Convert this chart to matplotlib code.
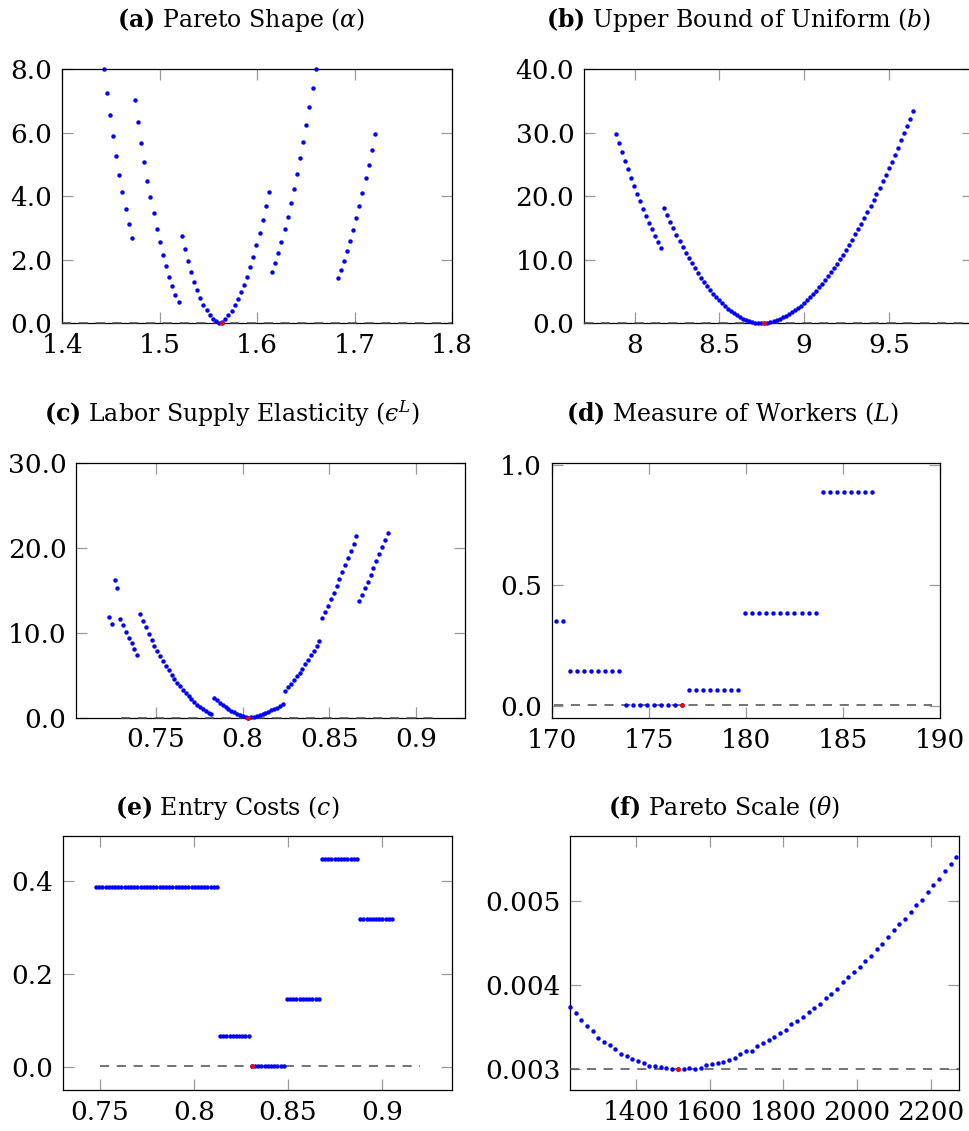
import numpy as np
import matplotlib
matplotlib.use("Agg")
import matplotlib.pyplot as plt

plt.rcParams['font.family'] = ['DejaVu Serif']
plt.rcParams['mathtext.fontset'] = 'dejavuserif'

# (a) Pareto shape
a_x = [1.4425, 1.4457, 1.4489, 1.4521, 1.4553, 1.4585, 1.4617, 1.4649, 1.4681, 1.4713,
       1.4745, 1.4777, 1.4809, 1.4841, 1.4873, 1.4905, 1.4937, 1.4969, 1.5001, 1.5033,
       1.5065, 1.5097, 1.5129, 1.5161, 1.5193,
       1.5225, 1.5257, 1.5289, 1.5321, 1.5353, 1.5385, 1.5417, 1.5449, 1.5481, 1.5513,
       1.5545, 1.5577, 1.5609, 1.5641, 1.5673, 1.5705, 1.5737, 1.5769, 1.5801, 1.5833,
       1.5865, 1.5897, 1.5929, 1.5961, 1.5993, 1.6025, 1.6057, 1.6089, 1.6121,
       1.6153, 1.6185, 1.6217, 1.6249, 1.6281, 1.6313, 1.6345, 1.6377, 1.6409, 1.6441,
       1.6473, 1.6505, 1.6537, 1.6569, 1.6601,
       1.6825, 1.6857, 1.6889, 1.6921, 1.6953, 1.6985, 1.7017, 1.7049, 1.7081, 1.7113,
       1.7145, 1.7177, 1.7209]
a_y = [7.99, 7.24, 6.55, 5.89, 5.27, 4.68, 4.12, 3.60, 3.11, 2.67,
       7.01, 6.33, 5.68, 5.07, 4.49, 3.96, 3.46, 2.98, 2.55, 2.16,
       1.80, 1.46, 1.17, 0.90, 0.68,
       2.75, 2.34, 1.97, 1.62, 1.31, 1.04, 0.80, 0.59, 0.41, 0.26,
       0.15, 0.06, 0.015, 0.03, 0.14, 0.25, 0.40, 0.57, 0.75, 0.97,
       1.21, 1.47, 1.78, 2.10, 2.46, 2.85, 3.25, 3.68, 4.14,
       1.60, 1.90, 2.22, 2.57, 2.96, 3.35, 3.78, 4.23, 4.69, 5.20,
       5.71, 6.25, 6.81, 7.40, 8.00,
       1.42, 1.68, 1.97, 2.26, 2.60, 2.94, 3.31, 3.69, 4.10, 4.56,
       4.99, 5.45, 5.94]
a_best = (1.5637, 0.0)

# (b) upper bound of uniform
b_x = [7.888, 7.906, 7.924, 7.942, 7.960, 7.978, 7.995, 8.013, 8.031, 8.049,
       8.067, 8.085, 8.103, 8.121, 8.139, 8.157, 8.174, 8.192, 8.210, 8.228,
       8.246, 8.264, 8.282, 8.300, 8.318, 8.336, 8.353, 8.371, 8.389, 8.407,
       8.425, 8.443, 8.461, 8.479, 8.497, 8.515, 8.532, 8.550, 8.568, 8.586,
       8.604, 8.622, 8.640, 8.658, 8.676, 8.694, 8.711, 8.729, 8.747, 8.765,
       8.783, 8.801, 8.819, 8.837, 8.855, 8.873, 8.890, 8.908, 8.926, 8.944,
       8.962, 8.980, 8.998, 9.016, 9.034, 9.052, 9.069, 9.087, 9.105, 9.123,
       9.141, 9.159, 9.177, 9.195, 9.213, 9.231, 9.248, 9.266, 9.284, 9.302,
       9.320, 9.338, 9.356, 9.374, 9.392, 9.410, 9.427, 9.445, 9.463, 9.481,
       9.499, 9.517, 9.535, 9.553, 9.571, 9.589, 9.606, 9.624, 9.642]
b_y = [29.83, 28.36, 26.95, 25.59, 24.22, 22.91, 21.60, 20.39, 19.19, 18.03,
       16.93, 15.83, 14.79, 13.74, 12.79, 11.85,
       18.19, 17.04, 15.99, 14.94, 13.95, 12.95, 12.01, 11.11, 10.28, 9.44,
       8.65, 7.86, 7.18, 6.50, 5.87, 5.24, 4.67, 4.14, 3.62, 3.15,
       2.67, 2.25, 1.89, 1.57, 1.26, 0.94, 0.68, 0.47, 0.31, 0.21,
       0.10, 0.05, 0.02, 0.00, 0.05, 0.17, 0.35, 0.53, 0.73, 0.94,
       1.15, 1.42, 1.73, 2.04, 2.36, 2.73, 3.15, 3.67, 4.09, 4.56,
       5.14, 5.66, 6.19, 6.76, 7.44, 8.07, 8.70, 9.38, 10.07, 10.80,
       11.59, 12.37, 13.16, 14.00, 14.84, 15.67, 16.57, 17.46, 18.40, 19.35,
       20.29, 21.29, 22.33, 23.33, 24.43, 25.43, 26.53, 27.63, 28.78, 29.88,
       31.04, 32.19, 33.40]
b_best = (8.765, 0.0)

# (c) labor supply elasticity
c_x = [0.7230, 0.7246, 0.7263, 0.7279, 0.7296, 0.7312, 0.7328, 0.7345, 0.7361, 0.7377,
       0.7394, 0.7410, 0.7427, 0.7443, 0.7459, 0.7476, 0.7492, 0.7509, 0.7525, 0.7541,
       0.7558, 0.7574, 0.7591, 0.7607, 0.7623, 0.7640, 0.7656, 0.7672, 0.7689, 0.7705,
       0.7722, 0.7738, 0.7754, 0.7771, 0.7787, 0.7804, 0.7820, 0.7836, 0.7853, 0.7869,
       0.7885, 0.7902, 0.7918, 0.7935, 0.7951, 0.7967, 0.7984, 0.8000, 0.8017, 0.8033,
       0.8049, 0.8066, 0.8082, 0.8099, 0.8115, 0.8131, 0.8148, 0.8164, 0.8180, 0.8197,
       0.8213, 0.8230, 0.8246, 0.8262, 0.8279, 0.8295, 0.8312, 0.8328, 0.8344, 0.8361,
       0.8377, 0.8393, 0.8410, 0.8426, 0.8443, 0.8459, 0.8475, 0.8492, 0.8508, 0.8525,
       0.8541, 0.8557, 0.8574, 0.8590, 0.8607, 0.8623, 0.8639, 0.8656, 0.8672, 0.8688,
       0.8705, 0.8721, 0.8738, 0.8754, 0.8770, 0.8787, 0.8803, 0.8820, 0.8836]
c_y = [11.84, 11.10, 16.27, 15.33, 11.69, 10.94, 10.16, 9.45, 8.78, 8.08,
       7.45, 12.20, 11.41, 10.67, 9.92, 9.22, 8.51, 7.88, 7.25, 6.67,
       6.08, 5.57, 5.06, 4.59, 4.12, 3.69, 3.29, 2.90, 2.51, 2.16,
       1.84, 1.53, 1.25, 1.02, 0.78, 0.59, 0.47, 2.35, 2.04, 1.73,
       1.49, 1.25, 1.02, 0.82, 0.63, 0.47, 0.31, 0.20, 0.12, 0.00,
       0.06, 0.12, 0.20, 0.30, 0.42, 0.56, 0.70, 0.85, 1.00, 1.18,
       1.36, 1.57, 3.18, 3.57, 3.96, 4.39, 4.86, 5.33, 5.80, 6.31,
       6.82, 7.37, 7.92, 8.47, 9.06, 11.76, 12.51, 13.22, 14.00, 14.75,
       15.53, 16.31, 17.14, 17.96, 18.78, 19.65, 20.51, 21.41, 13.76, 14.47,
       15.25, 16.04, 16.82, 17.61, 18.43, 19.25, 20.12, 20.94, 21.80]
c_best = (0.8033, 0.0)

# (d) measure of workers
d_x = [170.21, 170.57, 170.93, 171.29, 171.66, 172.02, 172.38, 172.74, 173.10, 173.46,
       173.83, 174.19, 174.55, 174.91, 175.27, 175.63, 176.00, 176.36, 176.72, 177.08,
       177.44, 177.80, 178.17, 178.53, 178.89, 179.25, 179.61, 179.97, 180.34, 180.70,
       181.06, 181.42, 181.78, 182.14, 182.50, 182.87, 183.23, 183.59, 183.95, 184.31,
       184.67, 185.04, 185.40, 185.76, 186.12, 186.48]
d_y = [0.351, 0.351,
       0.145, 0.145, 0.145, 0.145, 0.145, 0.145, 0.145, 0.145,
       0.001, 0.001, 0.001, 0.001, 0.001, 0.001, 0.001, 0.001, 0.001,
       0.064, 0.064, 0.064, 0.064, 0.064, 0.064, 0.064, 0.064,
       0.385, 0.385, 0.385, 0.385, 0.385, 0.385, 0.385, 0.385, 0.385, 0.385, 0.385,
       0.889, 0.889, 0.889, 0.889, 0.889, 0.889, 0.889, 0.889]
d_best = (176.72, 0.001)

# (e) entry costs
e_x = [0.7479, 0.7496, 0.7513, 0.7530, 0.7546, 0.7563, 0.7580, 0.7597, 0.7614, 0.7631,
       0.7648, 0.7665, 0.7682, 0.7699, 0.7716, 0.7733, 0.7750, 0.7767, 0.7783, 0.7800,
       0.7817, 0.7834, 0.7851, 0.7868, 0.7885, 0.7902, 0.7919, 0.7936, 0.7953, 0.7970,
       0.7987, 0.8004, 0.8020, 0.8037, 0.8054, 0.8071, 0.8088, 0.8105, 0.8122, 0.8139,
       0.8156, 0.8173, 0.8190, 0.8207, 0.8224, 0.8241, 0.8257, 0.8274, 0.8291, 0.8308,
       0.8325, 0.8342, 0.8359, 0.8376, 0.8393, 0.8410, 0.8427, 0.8444, 0.8461, 0.8478,
       0.8494, 0.8511, 0.8528, 0.8545, 0.8562, 0.8579, 0.8596, 0.8613, 0.8630, 0.8647,
       0.8664, 0.8681, 0.8698, 0.8715, 0.8731, 0.8748, 0.8765, 0.8782, 0.8799, 0.8816,
       0.8833, 0.8850, 0.8867, 0.8884, 0.8901, 0.8918, 0.8935, 0.8952, 0.8968, 0.8985,
       0.9002, 0.9019, 0.9036, 0.9053]
e_y = ([0.3875] * 39 + [0.0667] * 10 + [0.003] * 11
       + [0.1464] * 11 + [0.4478] * 12 + [0.3193] * 11)
e_best = (0.8308, 0.003)

# (f) Pareto scale
f_x = [1220.6, 1236.0, 1251.5, 1266.9, 1282.3, 1297.8, 1313.2, 1328.6, 1344.0, 1359.5,
       1374.9, 1390.3, 1405.8, 1421.2, 1436.6, 1452.1, 1467.5, 1482.9, 1498.3, 1513.8,
       1529.2, 1544.6, 1560.1, 1575.5, 1590.9, 1606.4, 1621.8, 1637.2, 1652.6, 1668.1,
       1683.5, 1698.9, 1714.4, 1729.8, 1745.2, 1760.7, 1776.1, 1791.5, 1806.9, 1822.4,
       1837.8, 1853.2, 1868.7, 1884.1, 1899.5, 1915.0, 1930.4, 1945.8, 1961.2, 1976.7,
       1992.1, 2007.5, 2023.0, 2038.4, 2053.8, 2069.3, 2084.7, 2100.1, 2115.5, 2131.0,
       2146.4, 2161.8, 2177.3, 2192.7, 2208.1, 2223.6, 2239.0, 2254.4, 2269.8]
f_y = [0.003736, 0.003660, 0.003580, 0.003505, 0.003445, 0.003370, 0.003318, 0.003286, 0.003235, 0.003175,
       0.003151, 0.003115, 0.003091, 0.003068, 0.003036, 0.003036, 0.003020, 0.003008, 0.003000, 0.003000,
       0.002992, 0.003012, 0.002996, 0.003008, 0.003040, 0.003052, 0.003068, 0.003083, 0.003107, 0.003131,
       0.003175, 0.003207, 0.003215, 0.003266, 0.003306, 0.003342, 0.003378, 0.003421, 0.003461, 0.003533,
       0.003569, 0.003612, 0.003672, 0.003724, 0.003771, 0.003839, 0.003895, 0.003954, 0.004034, 0.004093,
       0.004153, 0.004217, 0.004288, 0.004344, 0.004423, 0.004491, 0.004571, 0.004650, 0.004722, 0.004785,
       0.004869, 0.004952, 0.005016, 0.005103, 0.005187, 0.005266, 0.005362, 0.005441, 0.005529]
f_best = (1513.8, 0.003)

# ticks and labels
a_xt, a_xl = [1.4, 1.5, 1.6, 1.7, 1.8], ["1.4", "1.5", "1.6", "1.7", "1.8"]
a_yt, a_yl = [0, 2, 4, 6, 8], ["0.0", "2.0", "4.0", "6.0", "8.0"]
b_xt, b_xl = [8, 8.5, 9, 9.5], ["8", "8.5", "9", "9.5"]
b_yt, b_yl = [0, 10, 20, 30, 40], ["0.0", "10.0", "20.0", "30.0", "40.0"]
c_xt, c_xl = [0.75, 0.8, 0.85, 0.9], ["0.75", "0.8", "0.85", "0.9"]
c_yt, c_yl = [0, 10, 20, 30], ["0.0", "10.0", "20.0", "30.0"]
d_xt, d_xl = [170, 175, 180, 185, 190], ["170", "175", "180", "185", "190"]
d_yt, d_yl = [0, 0.5, 1.0], ["0.0", "0.5", "1.0"]
e_xt, e_xl = [0.75, 0.8, 0.85, 0.9], ["0.75", "0.8", "0.85", "0.9"]
e_yt, e_yl = [0, 0.2, 0.4], ["0.0", "0.2", "0.4"]
f_xt, f_xl = [1400, 1600, 1800, 2000, 2200], ["1400", "1600", "1800", "2000", "2200"]
f_yt, f_yl = [0.003, 0.004, 0.005], ["0.003", "0.004", "0.005"]

# lunate epsilon typed directly
titles = [r"$\mathbf{(a)}$ Pareto Shape ($\alpha$)",
          r"$\mathbf{(b)}$ Upper Bound of Uniform ($b$)",
          "$\\mathbf{(c)}$ Labor Supply Elasticity ($\u03f5^L$)",
          r"$\mathbf{(d)}$ Measure of Workers ($L$)",
          r"$\mathbf{(e)}$ Entry Costs ($c$)",
          r"$\mathbf{(f)}$ Pareto Scale ($\theta$)"]

W, H = 970, 1131
fig = plt.figure(figsize=(W / 100, H / 100), dpi=100)

# pixel boxes: left, top, right, bottom ; title centre x, baseline y
boxes = [(62.3, 69, 452, 323.3), (584, 69, 973.5, 323.3),
         (76.3, 463.3, 465.3, 717.7), (551.7, 463.3, 940, 718),
         (63.3, 835.7, 452.3, 1090), (570.3, 835.7, 959, 1090)]
title_pos = [(241.5, 26.7), (739, 26.7), (232.3, 421.7),
             (732.5, 421.7), (227.5, 815), (724, 815)]

panels = [
    (a_x, a_y, a_best, (1.4, 1.8), (0, 8), (1.4, 1.8), a_xt, a_xl, a_yt, a_yl),
    (b_x, b_y, b_best, (7.7, 10.0), (0, 40), (7.7, 10.0), b_xt, b_xl, b_yt, b_yl),
    (c_x, c_y, c_best, (0.7042, 0.9283), (0, 30), (0.73, 0.91), c_xt, c_xl, c_yt, c_yl),
    (d_x, d_y, d_best, (170, 190), (-0.051, 1.007), (170.1, 189.6), d_xt, d_xl, d_yt, d_yl),
    (e_x, e_y, e_best, (0.7305, 0.9374), (-0.049, 0.498), (0.75, 0.92), e_xt, e_xl, e_yt, e_yl),
    (f_x, f_y, f_best, (1221.6, 2277.4), (0.002746, 0.005779), (1221.6, 2277.4), f_xt, f_xl, f_yt, f_yl),
]

for i, (xs, ys, best, xl, yl, dash, xt, xtl, yt, ytl) in enumerate(panels):
    l, t, r, b = boxes[i]
    ax = fig.add_axes([l / W, 1 - b / H, (r - l) / W, (b - t) / H])
    ax.plot(dash, [best[1], best[1]], color='0.3', lw=1.1, dashes=(6, 5),
            clip_on=False, zorder=3)
    ax.plot(xs, ys, 'o', color='blue', ms=3.2, mew=0, clip_on=False, zorder=4)
    ax.plot([best[0]], [best[1]], 'o', color='red', ms=3.4, mew=0, clip_on=False, zorder=5)
    ax.set_xlim(xl)
    ax.set_ylim(yl)
    ax.set_xticks(xt, xtl)
    ax.set_yticks(yt, ytl)
    ax.tick_params(direction='in', length=8, width=0.9, color='0.6',
                   top=True, right=True, labelsize=19, pad=7)
    for s in ax.spines.values():
        s.set_linewidth(0.9)
        s.set_color('black')
    fig.text(title_pos[i][0] / W, 1 - title_pos[i][1] / H, titles[i],
             ha='center', va='baseline', fontsize=17)

fig.savefig("out.png", dpi=100)
